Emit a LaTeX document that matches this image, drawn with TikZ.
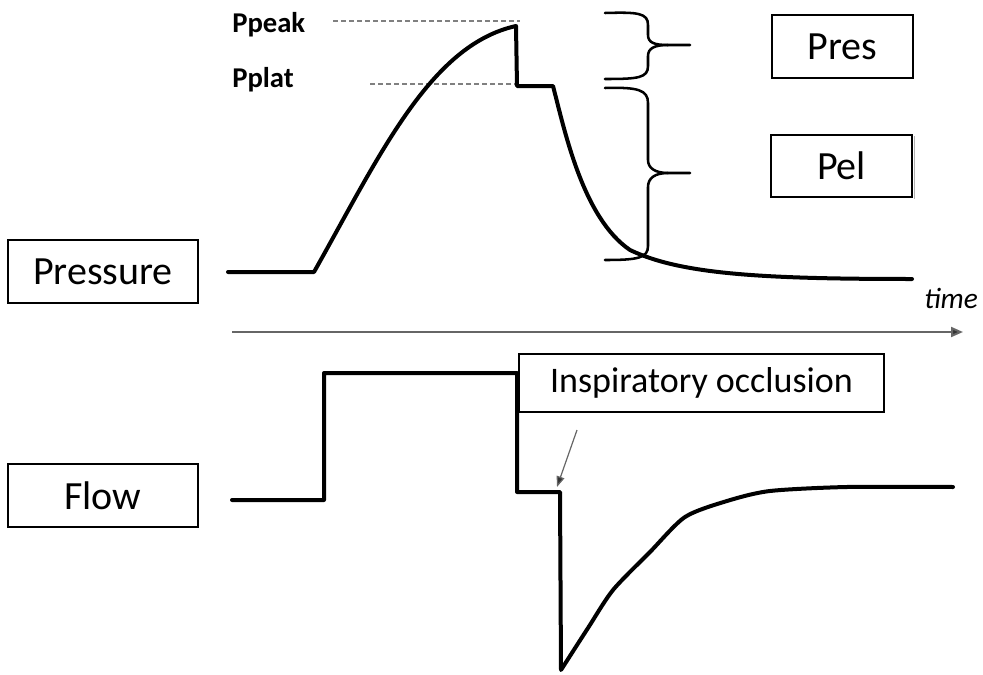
\documentclass[tikz,border=0pt]{standalone}
\usepackage{fontspec}
\setmainfont{Carlito}
\usetikzlibrary{arrows.meta}
\tikzset{
  trace/.style={line width=3pt, line join=round, line cap=round},
  brace/.style={line width=1.9pt, line cap=round},
  labelbox/.style={draw, line width=1.1pt, inner sep=0pt, font=\fontsize{30}{34}\selectfont},
  reflevel/.style={draw=gray, line width=1.1pt, dash pattern=on 3.4pt off 2.6pt},
  pname/.style={font=\bfseries\fontsize{21.5}{24}\selectfont, anchor=base west, inner sep=0pt},
}
\begin{document}
\begin{tikzpicture}[x=0.75pt, y=-0.75pt]
\useasboundingbox (0,0) rectangle (983,675);

% label boxes
\node[labelbox, minimum width=142.5pt, minimum height=47.25pt] (pressure) at (103,271.5) {Pressure};
\node[labelbox, minimum width=142.5pt, minimum height=47.25pt] (flow) at (103,495.5) {Flow};
\node[labelbox, minimum width=105.75pt, minimum height=47.25pt] (pres) at (842.5,46.5) {Pres};
\node[labelbox, minimum width=105.75pt, minimum height=46.5pt] (pel) at (841.5,166) {Pel};
\draw[gray!60, line width=1.2pt] ([xshift=1.2pt,yshift=-1.5pt]pel.north east) -- ([xshift=1.2pt,yshift=-1.2pt]pel.south east);

% reference levels
\node[pname] (ppeak) at (232,32) {Ppeak};
\node[pname] (pplat) at (232,87) {Pplat};
\coordinate (pk1) at (333,21);
\coordinate (pk2) at (520,21);
\coordinate (pl1) at (370,84);
\coordinate (pl2) at (517,84);
\draw[reflevel] (pk1) -- (pk2);
\draw[reflevel] (pl1) -- (pl2);

% pressure trace
\draw[trace] (228,272) -- (314,272)
  .. controls (380,155) and (430,45) .. (516,26)
  -- (517,86) -- (553,86)
  .. controls (565,132) and (583,218) .. (630,250)
  .. controls (680,274) and (760,279) .. (912,279);

% braces
\draw[brace] (605,13) .. controls (638,12) and (648,13) .. (648,25) -- (648,35)
  .. controls (648,43) and (655,45) .. (668,45) -- (690,45);
\draw[brace] (668,45) .. controls (655,45) and (648,48) .. (648,56) -- (648,66)
  .. controls (648,78) and (638,79) .. (605,79);
\draw[brace] (605,88) .. controls (638,87) and (648,90) .. (648,103) -- (648,160)
  .. controls (648,168) and (655,173) .. (668,173) -- (690,173);
\draw[brace] (668,173) .. controls (655,173) and (648,178) .. (648,187) -- (648,246)
  .. controls (648,258) and (638,260) .. (605,260);

% time axis
\coordinate (ax1) at (232,332);
\coordinate (ax2) at (963,332);
\draw[draw=black!60, line width=1.5pt, -{Triangle[length=9pt, width=7.5pt, fill=black!80]}] (ax1) -- (ax2);
\node[font=\itshape\fontsize{22}{25}\selectfont, anchor=base west, inner sep=0pt] (time) at (924,308) {time};

% flow trace
\draw[trace] (232,500) -- (324,500) -- (324,373) -- (517,373) -- (517,492) -- (560,492) -- (561,670)
  -- plot[smooth, tension=0.45] coordinates {(561,670) (588,628) (613,590) (650,552) (685,517) (727,501) (770,491) (847,487) (953,487)};

% occlusion label
\node[labelbox, fill=white, minimum width=273.75pt, minimum height=43.5pt, font=\fontsize{27}{30}\selectfont] (occl) at (701.5,383) {Inspiratory occlusion};
\coordinate (oc1) at (577,430);
\coordinate (oc2) at (557,487);
\draw[draw=black!60, line width=0.9pt, -{Triangle[length=8pt, width=6pt, fill=black!80]}] (oc1) -- (oc2);
\end{tikzpicture}
\end{document}
